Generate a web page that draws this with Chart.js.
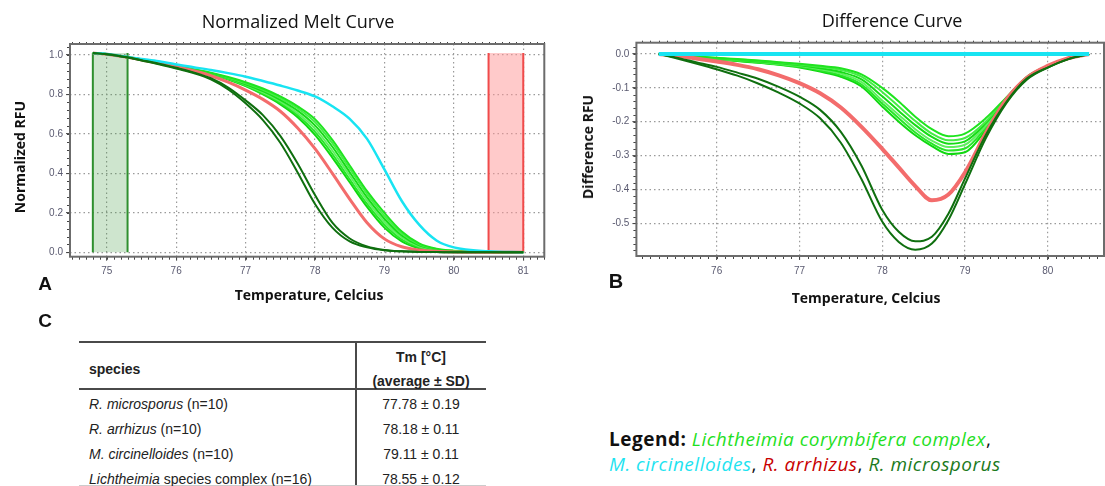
<!DOCTYPE html>
<html>
<head>
<meta charset="utf-8">
<script src="https://cdn.jsdelivr.net/npm/chart.js@4.4.0/dist/chart.umd.min.js"></script>
<style>
  body { margin: 0; background: #fff; }
  #page { position: relative; width: 1105px; height: 486px; overflow: hidden; background: #fff; color: #111; font-family: 'Open Sans', sans-serif; }
  canvas { position: absolute; top: 0; }
  .t { position: absolute; white-space: nowrap; transform: translate(-50%, -50%); line-height: 1; }
  .title { font-size: 18px; color: #111; }
  .axt { font-size: 14px; font-weight: bold; }
  .rot { transform: translate(-50%, -50%) rotate(-90deg); }
  .panel { font-family: 'Liberation Sans', Arial, sans-serif; font-weight: bold; font-size: 19px; }
  .rule { position: absolute; background: #4a4a4a; }
  .cell { position: absolute; white-space: nowrap; font-family: 'Liberation Sans', Arial, sans-serif; font-size: 14px; color: #222; line-height: 1; transform: translateY(-50%); }
  .mid { transform: translate(-50%, -50%); }
  #legend { position: absolute; left: 609px; top: 427px; font-family: 'Open Sans', sans-serif; font-size: 19px; letter-spacing: 0.5px; line-height: 25px; color: #111; }
  #legend i { font-style: italic; }
</style>
</head>
<body>
<div id="page">
  <canvas id="melt" width="560" height="310" style="left:0"></canvas>
  <canvas id="diff" width="545" height="310" style="left:560px"></canvas>

  <div class="t title" style="left:298px;top:21px">Normalized Melt Curve</div>
  <div class="t title" style="left:892px;top:20px">Difference Curve</div>
  <div class="t axt rot" style="left:20px;top:157px">Normalized RFU</div>
  <div class="t axt rot" style="left:588px;top:147px">Difference RFU</div>
  <div class="t axt" style="left:309px;top:295px">Temperature, Celcius</div>
  <div class="t axt" style="left:866px;top:298px">Temperature, Celcius</div>
  <div class="t panel" style="left:45px;top:283px">A</div>
  <div class="t panel" style="left:616px;top:281px;font-size:20px">B</div>
  <div class="t panel" style="left:45px;top:320px">C</div>

  <div class="rule" style="left:79px;top:341px;width:407px;height:2px"></div>
  <div class="rule" style="left:79px;top:388px;width:407px;height:2px"></div>
  <div class="rule" style="left:355px;top:341px;width:2px;height:145px"></div>
  <div class="rule" style="left:79px;top:485px;width:407px;height:1px;background:#ccc"></div>
  <div id="table"></div>

  <div id="legend">
    <b>Legend:</b> <i style="color:#1fe01f">Lichtheimia corymbifera complex</i>,<br>
    <i style="color:#1ee3f0">M. circinelloides</i>, <i style="color:#c80000">R. arrhizus</i>, <i style="color:#1c7a1c">R. microsporus</i>
  </div>
</div>
<script>
// ---------- Panel A: normalized melt curves ----------
const meltTemps = [74.8, 75.0, 75.3, 75.5, 75.75, 76.0, 76.25, 76.5, 76.75, 77.0, 77.25, 77.5,
                   77.75, 78.0, 78.25, 78.5, 78.75, 79.0, 79.25, 79.5, 79.75, 80.0, 80.5, 81.0];

const meltCircinelloides = [1.01, 1.005, 0.99, 0.98, 0.968, 0.952, 0.938, 0.924, 0.908, 0.89, 0.868, 0.845,
                            0.82, 0.79, 0.74, 0.676, 0.575, 0.42, 0.26, 0.14, 0.06, 0.025, 0.005, 0];
const meltArrhizus = [1.01, 1.004, 0.988, 0.975, 0.958, 0.94, 0.92, 0.895, 0.862, 0.822, 0.775, 0.715,
                      0.63, 0.525, 0.40, 0.27, 0.15, 0.068, 0.028, 0.012, 0.005, 0.002, 0, 0];
const meltMicrosporus1 = [1.01, 1.004, 0.987, 0.972, 0.953, 0.932, 0.908, 0.876, 0.825, 0.755, 0.67, 0.555,
                          0.405, 0.245, 0.125, 0.055, 0.025, 0.01, 0.005, 0.002, 0.001, 0, 0, 0];
const meltMicrosporus2 = [1.01, 1.004, 0.988, 0.974, 0.956, 0.935, 0.912, 0.882, 0.835, 0.77, 0.695, 0.59,
                          0.45, 0.29, 0.15, 0.07, 0.03, 0.012, 0.005, 0.002, 0.001, 0, 0, 0];
const meltLich1 = [1.01, 1.005, 0.99, 0.978, 0.963, 0.946, 0.928, 0.91, 0.888, 0.862, 0.83, 0.79,
                   0.74, 0.675, 0.57, 0.44, 0.31, 0.2, 0.105, 0.045, 0.018, 0.008, 0.002, 0];
const meltLich2 = [1.01, 1.005, 0.99, 0.978, 0.962, 0.945, 0.927, 0.908, 0.885, 0.857, 0.824, 0.782,
                   0.73, 0.66, 0.553, 0.424, 0.295, 0.185, 0.095, 0.04, 0.016, 0.007, 0.002, 0];
const meltLich3 = [1.01, 1.005, 0.989, 0.977, 0.962, 0.944, 0.925, 0.906, 0.882, 0.852, 0.817, 0.773,
                   0.718, 0.643, 0.535, 0.406, 0.278, 0.17, 0.085, 0.035, 0.014, 0.006, 0.002, 0];
const meltLich4 = [1.01, 1.004, 0.989, 0.977, 0.961, 0.943, 0.924, 0.905, 0.88, 0.849, 0.811, 0.765,
                   0.705, 0.627, 0.516, 0.388, 0.262, 0.155, 0.075, 0.03, 0.012, 0.005, 0.001, 0];
const meltLich5 = [1.01, 1.004, 0.988, 0.976, 0.96, 0.942, 0.923, 0.903, 0.878, 0.845, 0.805, 0.757,
                   0.695, 0.61, 0.498, 0.37, 0.245, 0.14, 0.065, 0.025, 0.01, 0.004, 0.001, 0];
const meltLich6 = [1.01, 1.004, 0.988, 0.976, 0.96, 0.942, 0.922, 0.902, 0.876, 0.842, 0.8, 0.75,
                   0.685, 0.595, 0.48, 0.355, 0.23, 0.125, 0.055, 0.02, 0.008, 0.003, 0.001, 0];

// normalisation regions (start, end) and their top value
const lowerRegion = [74.8, 75.3];
const upperRegion = [80.5, 81.0];
const regionTop = 1.01;

const meltXTicks = [75, 76, 77, 78, 79, 80, 81];
const meltYTicks = [0, 0.2, 0.4, 0.6, 0.8, 1.0];

// ---------- Panel B: difference curves ----------
const diffTemps = [75.3, 75.5, 75.75, 76.0, 76.25, 76.5, 76.75, 77.0, 77.25, 77.5, 77.75, 78.0,
                   78.2, 78.4, 78.6, 78.8, 79.0, 79.25, 79.5, 79.75, 80.0, 80.25, 80.5];

const diffCircinelloides = [0, 0, 0, 0, 0, 0, 0, 0, 0, 0, 0, 0, 0, 0, 0, 0, 0, 0, 0, 0, 0, 0, 0];
const diffArrhizus = [0, -0.005, -0.013, -0.022, -0.032, -0.045, -0.063, -0.086, -0.116, -0.158, -0.215, -0.28,
                      -0.335, -0.39, -0.432, -0.415, -0.35, -0.235, -0.135, -0.07, -0.035, -0.012, 0];
const diffMicrosporus1 = [0, -0.012, -0.028, -0.045, -0.064, -0.087, -0.114, -0.146, -0.19, -0.262, -0.37, -0.495,
                          -0.555, -0.578, -0.56, -0.49, -0.385, -0.25, -0.145, -0.075, -0.04, -0.015, 0];
const diffMicrosporus2 = [0, -0.01, -0.024, -0.038, -0.055, -0.073, -0.097, -0.126, -0.165, -0.23, -0.33, -0.46,
                          -0.525, -0.553, -0.54, -0.472, -0.368, -0.24, -0.142, -0.072, -0.04, -0.015, 0];
const diffLich1 = [0, -0.003, -0.007, -0.011, -0.015, -0.019, -0.024, -0.029, -0.035, -0.042, -0.06, -0.1,
                   -0.14, -0.185, -0.222, -0.243, -0.235, -0.19, -0.128, -0.067, -0.035, -0.012, 0];
const diffLich2 = [0, -0.003, -0.008, -0.012, -0.016, -0.02, -0.025, -0.031, -0.038, -0.047, -0.067, -0.112,
                   -0.155, -0.198, -0.235, -0.255, -0.248, -0.2, -0.13, -0.068, -0.035, -0.012, 0];
const diffLich3 = [0, -0.004, -0.008, -0.013, -0.017, -0.022, -0.027, -0.033, -0.042, -0.053, -0.075, -0.125,
                   -0.168, -0.21, -0.245, -0.265, -0.258, -0.205, -0.131, -0.068, -0.035, -0.012, 0];
const diffLich4 = [0, -0.004, -0.009, -0.014, -0.018, -0.023, -0.029, -0.035, -0.045, -0.058, -0.083, -0.137,
                   -0.18, -0.222, -0.256, -0.275, -0.268, -0.212, -0.132, -0.069, -0.035, -0.012, 0];
const diffLich5 = [0, -0.004, -0.009, -0.015, -0.02, -0.025, -0.031, -0.038, -0.049, -0.063, -0.09, -0.146,
                   -0.19, -0.232, -0.265, -0.285, -0.279, -0.218, -0.134, -0.07, -0.036, -0.013, 0];
const diffLich6 = [0, -0.005, -0.01, -0.016, -0.021, -0.026, -0.032, -0.04, -0.052, -0.067, -0.096, -0.155,
                   -0.2, -0.24, -0.272, -0.295, -0.29, -0.225, -0.135, -0.07, -0.036, -0.013, 0];

const diffXTicks = [76, 77, 78, 79, 80];
const diffYTicks = [-0.5, -0.4, -0.3, -0.2, -0.1, 0];

// ---------- Panel C: table ----------
const tableSpecies = ['R. microsporus', 'R. arrhizus', 'M. circinelloides', 'Lichtheimia'];
const tableRest = [' (n=10)', ' (n=10)', ' (n=10)', ' species complex (n=16)'];
const tableTm = ['77.78 ± 0.19', '78.18 ± 0.11', '79.11 ± 0.11', '78.55 ± 0.12'];

const LICH_GREENS = ['#1fe41f', '#45ec45', '#16dc16', '#5ff05f', '#28e628', '#10d810'];
const DARK_GREEN = '#0f6f0f';
const RED = '#f36c6c';
const CYAN = '#18e4f2';

const pts = (xs, ys) => xs.map((x, i) => ({ x, y: ys[i] }));

function curve(xs, ys, color, width) {
  return {
    data: pts(xs, ys),
    borderColor: color,
    borderWidth: width,
    pointRadius: 0,
    fill: false,
    cubicInterpolationMode: 'monotone',
    order: 1,
  };
}

function region(range, fillColor, edgeColor) {
  // open box: left edge, top (no stroke), right edge, filled to zero
  return {
    data: [{ x: range[0], y: 0 }, { x: range[0], y: regionTop }, { x: range[1], y: regionTop }, { x: range[1], y: 0 }],
    borderColor: edgeColor,
    backgroundColor: fillColor,
    borderWidth: 2,
    pointRadius: 0,
    tension: 0,
    fill: 'origin',
    order: 5,
    segment: { borderColor: c => (c.p0DataIndex === 1 ? 'rgba(0,0,0,0)' : edgeColor) },
  };
}

// frame around the plot and small minor ticks on the axes
const frameTicks = {
  id: 'frameTicks',
  afterDraw(chart, args, opts) {
    const { ctx, chartArea: a, scales: { x, y } } = chart;
    ctx.save();
    ctx.strokeStyle = '#444';
    ctx.lineWidth = 1;
    ctx.beginPath();
    for (let i = Math.ceil(x.min / opts.xStep); i * opts.xStep <= x.max; i++) {
      const px = Math.round(x.getPixelForValue(i * opts.xStep)) + 0.5;
      ctx.moveTo(px, a.bottom);
      ctx.lineTo(px, a.bottom + 3);
      ctx.moveTo(px, a.top);
      ctx.lineTo(px, a.top - 2);
    }
    for (let i = Math.ceil(y.min / opts.yStep); i * opts.yStep <= y.max + 1e-9; i++) {
      const py = Math.round(y.getPixelForValue(i * opts.yStep)) + 0.5;
      ctx.moveTo(a.left, py);
      ctx.lineTo(a.left - 3, py);
    }
    ctx.stroke();
    ctx.lineWidth = 2;
    ctx.strokeStyle = '#6c6c6c';
    ctx.strokeRect(a.left, a.top, a.right - a.left, a.bottom - a.top);
    ctx.restore();
  },
};

function axes(xr, yr, xTicks, yTicks, yWidth, xHeight) {
  const tickFont = { family: "'Liberation Sans', Arial, sans-serif", size: 10 };
  const grid = { color: '#9a9a9a', lineWidth: 1.2, tickLength: 4, tickColor: '#444', tickWidth: 1 };
  const border = { display: false, dash: [1.5, 3] };
  return {
    x: {
      type: 'linear', min: xr[0], max: xr[1],
      afterBuildTicks: s => { s.ticks = xTicks.map(v => ({ value: v })); },
      afterFit: s => { s.height = xHeight; },
      ticks: { color: '#5a5a70', font: tickFont, padding: 5, maxRotation: 0, callback: v => String(v) },
      grid, border,
    },
    y: {
      type: 'linear', min: yr[0], max: yr[1],
      afterBuildTicks: s => { s.ticks = yTicks.map(v => ({ value: v })); },
      afterFit: s => { s.width = yWidth; },
      ticks: { color: '#5a5a70', font: tickFont, padding: 3, callback: v => v.toFixed(1) },
      grid, border,
    },
  };
}

const common = {
  responsive: false,
  animation: false,
  events: [],
  plugins: { legend: { display: false }, tooltip: { enabled: false } },
};

new Chart(document.getElementById('melt'), {
  type: 'line',
  data: {
    datasets: [
      curve(meltTemps, meltMicrosporus1, DARK_GREEN, 2),
      curve(meltTemps, meltMicrosporus2, DARK_GREEN, 2),
      curve(meltTemps, meltCircinelloides, CYAN, 2.5),
      curve(meltTemps, meltArrhizus, RED, 3),
      curve(meltTemps, meltLich1, LICH_GREENS[0], 2),
      curve(meltTemps, meltLich2, LICH_GREENS[1], 2),
      curve(meltTemps, meltLich3, LICH_GREENS[2], 2),
      curve(meltTemps, meltLich4, LICH_GREENS[3], 2),
      curve(meltTemps, meltLich5, LICH_GREENS[4], 2),
      curve(meltTemps, meltLich6, LICH_GREENS[5], 2),
      region(lowerRegion, 'rgba(60,150,60,0.25)', '#2f8f2f'),
      region(upperRegion, 'rgba(255,150,150,0.5)', '#f04a4a'),
    ],
  },
  options: {
    ...common,
    layout: { padding: { left: 0, top: 44, right: 15.7, bottom: 0 } },
    scales: axes([74.471, 81.303], [-0.0223, 1.0557], meltXTicks, meltYTicks, 70, 53.3),
    plugins: { ...common.plugins, frameTicks: { xStep: 0.1, yStep: 0.04 } },
  },
  plugins: [frameTicks],
});

new Chart(document.getElementById('diff'), {
  type: 'line',
  data: {
    datasets: [
      curve(diffTemps, diffCircinelloides, CYAN, 4),
      curve(diffTemps, diffMicrosporus1, DARK_GREEN, 2),
      curve(diffTemps, diffMicrosporus2, DARK_GREEN, 2),
      curve(diffTemps, diffArrhizus, RED, 4),
      curve(diffTemps, diffLich1, LICH_GREENS[0], 2),
      curve(diffTemps, diffLich2, LICH_GREENS[1], 2),
      curve(diffTemps, diffLich3, LICH_GREENS[2], 2),
      curve(diffTemps, diffLich4, LICH_GREENS[3], 2),
      curve(diffTemps, diffLich5, LICH_GREENS[4], 2),
      curve(diffTemps, diffLich6, LICH_GREENS[5], 2),
    ],
  },
  options: {
    ...common,
    layout: { padding: { left: 0, top: 42.7, right: 1, bottom: 0 } },
    scales: axes([75.03, 80.68], [-0.5966, 0.0334], diffXTicks, diffYTicks, 76.4, 54),
    plugins: { ...common.plugins, frameTicks: { xStep: 0.1, yStep: 0.02 } },
  },
  plugins: [frameTicks],
});

// table text
const table = document.getElementById('table');
function cell(html, left, top, cls) {
  const d = document.createElement('div');
  d.className = 'cell' + (cls ? ' ' + cls : '');
  d.style.left = left + 'px';
  d.style.top = top + 'px';
  d.innerHTML = html;
  table.appendChild(d);
}
cell('<b>species</b>', 89, 369);
cell('<b>Tm [°C]</b>', 421, 357, 'mid');
cell('<b>(average ± SD)</b>', 421, 381, 'mid');
const rowY = [404, 429, 454, 479];
tableSpecies.forEach((s, i) => {
  cell('<i>' + s + '</i>' + tableRest[i], 89, rowY[i]);
  cell(tableTm[i], 421, rowY[i], 'mid');
});
</script>
</body>
</html>
